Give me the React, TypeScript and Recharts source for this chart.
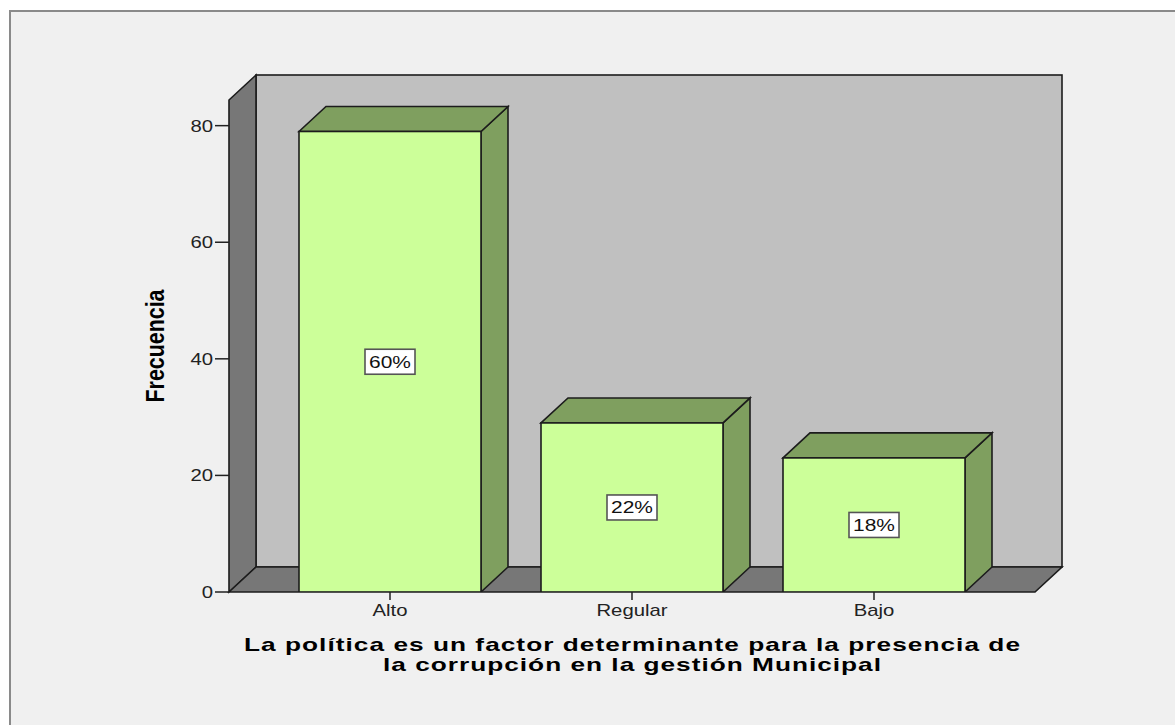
import React from 'react';
import * as Recharts from 'recharts';

const { BarChart, Bar, XAxis, YAxis, LabelList } = Recharts as any;

// ---- data ----
const categories = ['Alto', 'Regular', 'Bajo'];
const frequencies = [79, 29, 23];
const percentLabels = ['60%', '22%', '18%'];
const yTicks = [0, 20, 40, 60, 80];
const yMax = 84.4;
const yTitle = 'Frecuencia';
const xTitleLines = [
  'La política es un factor determinante para la presencia de',
  'la corrupción en la gestión Municipal',
];

const data = categories.map((c, i) => ({ name: c, value: frequencies[i], pct: percentLabels[i] }));

// ---- style ----
const DX = 27;
const DY = -25;
const SX = 1.27;
const TSX = 1.5;
const FONT = '"Liberation Sans", Arial, Helvetica, sans-serif';
const FRONT = '#ccff99';
const SIDE = '#7f9f5f';
const WALL_BACK = '#c0c0c0';
const WALL_DARK = '#777777';
const EDGE = '#1c1c1c';

function usePlotRect(): { L: number; T: number; R: number; B: number } | null {
  const RC: any = Recharts;
  if (typeof RC.usePlotArea === 'function') {
    const p = RC.usePlotArea();
    if (!p) return null;
    return { L: p.x, T: p.y, R: p.x + p.width, B: p.y + p.height };
  }
  if (typeof RC.useOffset === 'function') {
    const o = RC.useOffset();
    const w = RC.useChartWidth ? RC.useChartWidth() : 0;
    const h = RC.useChartHeight ? RC.useChartHeight() : 0;
    if (!o) return null;
    return { L: o.left, T: o.top, R: w - o.right, B: h - o.bottom };
  }
  return null;
}

const Decor = () => {
  const r = usePlotRect();
  if (!r) return null;
  const { L, T, R, B } = r;
  const cx = (L + R) / 2;
  return (
    <g>
      <g stroke={EDGE} strokeWidth={1.6} strokeLinejoin="miter">
        <rect x={L + DX} y={T + DY} width={R - L} height={B - T} fill={WALL_BACK} />
        <polygon points={`${L},${T} ${L + DX},${T + DY} ${L + DX},${B + DY} ${L},${B}`} fill={WALL_DARK} />
        <polygon points={`${L},${B} ${L + DX},${B + DY} ${R + DX},${B + DY} ${R},${B}`} fill={WALL_DARK} />
      </g>
      <g transform={`translate(${L - 65},${(T + B) / 2}) scale(1.2,1) rotate(-90)`}>
        <text
          x={0}
          y={0}
          textAnchor="middle"
          fontFamily={FONT}
          fontWeight="bold"
          fontSize={21}
          fill="#000"
          textLength={113}
          lengthAdjust="spacingAndGlyphs"
        >
          {yTitle}
        </text>
      </g>
      <g transform={`translate(${cx},${B + 59}) scale(${TSX},1)`}>
        <text x={0} y={0} textAnchor="middle" fontFamily={FONT} fontWeight="bold" fontSize={17.5} fill="#000"
          textLength={776 / TSX} lengthAdjust="spacing">
          {xTitleLines[0]}
        </text>
      </g>
      <g transform={`translate(${cx},${B + 79}) scale(${TSX},1)`}>
        <text x={0} y={0} textAnchor="middle" fontFamily={FONT} fontWeight="bold" fontSize={17.5} fill="#000"
          textLength={498 / TSX} lengthAdjust="spacing">
          {xTitleLines[1]}
        </text>
      </g>
    </g>
  );
};

const Bar3D = (props: any) => {
  const { x, y, width: w, height: h } = props;
  if (x == null || w == null || h == null) return null;
  return (
    <g stroke={EDGE} strokeWidth={1.6} strokeLinejoin="miter">
      <polygon points={`${x + w},${y} ${x + w + DX},${y + DY} ${x + w + DX},${y + h + DY} ${x + w},${y + h}`} fill={SIDE} />
      <polygon points={`${x},${y} ${x + DX},${y + DY} ${x + w + DX},${y + DY} ${x + w},${y}`} fill={SIDE} />
      <rect x={x} y={y} width={w} height={h} fill={FRONT} />
    </g>
  );
};

const PctLabel = (props: any) => {
  const vb = props.viewBox ?? props;
  if (vb == null || vb.x == null) return null;
  const cx = vb.x + vb.width / 2;
  const cy = vb.y + vb.height / 2;
  return (
    <g>
      <rect x={cx - 25} y={cy - 12.5} width={50} height={25} fill="#ffffff" stroke="#555555" strokeWidth={1.6} />
      <g transform={`translate(${cx},${cy + 6}) scale(${SX},1)`}>
        <text x={0} y={0} textAnchor="middle" fontFamily={FONT} fontSize={16.5} fill="#111">
          {props.value}
        </text>
      </g>
    </g>
  );
};

const YTick = (props: any) => {
  const { x, y, payload } = props;
  return (
    <g transform={`translate(${x},${y + 6}) scale(${SX},1)`}>
      <text x={0} y={0} textAnchor="end" fontFamily={FONT} fontSize={16} fill="#222">
        {payload.value}
      </text>
    </g>
  );
};

const XTick = (props: any) => {
  const { x, y, payload } = props;
  return (
    <g transform={`translate(${x},${y + 14}) scale(${SX},1)`}>
      <text x={0} y={0} textAnchor="middle" fontFamily={FONT} fontSize={16} fill="#222">
        {payload.value}
      </text>
    </g>
  );
};

export default function App() {
  return (
    <div style={{ position: 'absolute', left: 0, top: 0, width: 1175, height: 725, background: '#ffffff', overflow: 'hidden' }}>
      <div
        style={{
          position: 'absolute',
          left: 9,
          top: 10,
          width: 1166,
          height: 715,
          background: '#f0f0f0',
          borderLeft: '2px solid #8a8a8a',
          borderTop: '2px solid #8a8a8a',
        }}
      />
      <div style={{ position: 'absolute', left: 0, top: 0 }}>
        <BarChart
          width={1175}
          height={725}
          data={data}
          margin={{ top: 100, right: 140, left: 169, bottom: 103 }}
          barCategoryGap={30}
        >
          <Decor />
          <XAxis
            dataKey="name"
            padding={{ left: 40, right: 40 }}
            axisLine={false}
            tickLine={{ stroke: '#222', strokeWidth: 1.5 }}
            tickSize={8}
            tickMargin={2}
            height={30}
            tick={<XTick />}
            interval={0}
          />
          <YAxis
            type="number"
            domain={[0, yMax]}
            ticks={yTicks}
            allowDataOverflow
            axisLine={false}
            tickLine={{ stroke: '#222', strokeWidth: 1.5 }}
            tickSize={14}
            tickMargin={2}
            width={60}
            tick={<YTick />}
            interval={0}
          />
          <Bar dataKey="value" shape={<Bar3D />} isAnimationActive={false}>
            <LabelList dataKey="pct" content={<PctLabel />} />
          </Bar>
        </BarChart>
      </div>
    </div>
  );
}
